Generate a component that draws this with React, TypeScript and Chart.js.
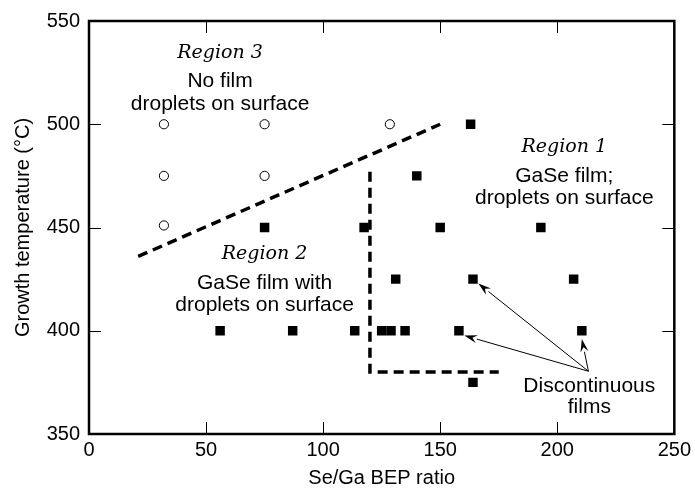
import React, { useEffect, useRef } from "react";
import { Chart, registerables } from "chart.js";

Chart.register(...registerables);

// Filled squares: GaSe film samples
const filledX = [163, 140, 75, 117.5, 150, 193, 131, 164, 207, 56, 87, 113.5, 125, 129, 135, 158, 210.5, 164];
const filledY = [500, 475, 450, 450, 450, 450, 425, 425, 425, 400, 400, 400, 400, 400, 400, 400, 400, 375];

// Open circles: no film
const openX = [32, 75, 128.5, 32, 75, 32];
const openY = [500, 500, 500, 475, 475, 451];

// Dashed boundaries
const diagX = [21, 150];
const diagY = [436, 500];
const cornerX = [120, 120, 175];
const cornerY = [477, 380, 380];

// Ticks
const xTicks = [0, 50, 100, 150, 200, 250];
const yTicks = [350, 400, 450, 500, 550];

// Annotation texts
const noteTexts = [
  "Region 3", "No film", "droplets on surface",
  "Region 2", "GaSe film with", "droplets on surface",
  "Region 1", "GaSe film;", "droplets on surface",
  "Discontinuous", "films",
];
const noteX = [56, 56, 56, 75, 75, 75, 203, 203, 203, 213.7, 213.7];
const noteY = [534.6, 520.7, 509.8, 437.0, 422.9, 412.5, 489.1, 475.0, 464.1, 373.2, 362.8];
const noteItalic = [true, false, false, true, false, false, true, false, false, false, false];

// Arrows
const arrowFromX = 213.3;
const arrowFromY = 380.4;
const arrowTipX = [166.3, 160.3, 210.5];
const arrowTipY = [422.9, 397.7, 396];

const SANS = "'Liberation Sans', Arial, Helvetica, sans-serif";
const SERIF = "'DejaVu Serif', 'Liberation Serif', serif";

const decorPlugin = {
  id: "decor",
  afterDatasetsDraw(chart: any) {
    const ctx = chart.ctx as CanvasRenderingContext2D;
    const xs = chart.scales.x;
    const ys = chart.scales.y;
    const { left, right, top, bottom } = chart.chartArea;
    ctx.save();
    // inward ticks on all sides
    ctx.strokeStyle = "#000";
    ctx.lineWidth = 1;
    const tl = 12;
    ctx.beginPath();
    xTicks.forEach((v) => {
      const px = Math.round(xs.getPixelForValue(v)) + 0.5;
      ctx.moveTo(px, bottom);
      ctx.lineTo(px, bottom - tl);
      ctx.moveTo(px, top);
      ctx.lineTo(px, top + tl);
    });
    yTicks.forEach((v) => {
      const py = Math.round(ys.getPixelForValue(v)) + 0.5;
      ctx.moveTo(left, py);
      ctx.lineTo(left + tl, py);
      ctx.moveTo(right, py);
      ctx.lineTo(right - tl, py);
    });
    ctx.stroke();
    // frame
    ctx.lineWidth = 2.5;
    ctx.strokeRect(left, top, right - left, bottom - top);

    // texts
    ctx.fillStyle = "#000";
    ctx.textAlign = "center";
    ctx.textBaseline = "middle";
    noteTexts.forEach((t, i) => {
      ctx.font = noteItalic[i] ? `italic 19px ${SERIF}` : `21px ${SANS}`;
      ctx.fillText(t, xs.getPixelForValue(noteX[i]), ys.getPixelForValue(noteY[i]));
    });

    // arrows
    const fx = xs.getPixelForValue(arrowFromX);
    const fy = ys.getPixelForValue(arrowFromY);
    ctx.lineWidth = 1;
    arrowTipX.forEach((tx, i) => {
      const px = xs.getPixelForValue(tx);
      const py = ys.getPixelForValue(arrowTipY[i]);
      const ang = Math.atan2(py - fy, px - fx);
      const hl = 13;
      const hw = 4;
      const bx = px - hl * Math.cos(ang);
      const by = py - hl * Math.sin(ang);
      ctx.beginPath();
      ctx.moveTo(fx, fy);
      ctx.lineTo(bx, by);
      ctx.stroke();
      ctx.beginPath();
      ctx.moveTo(px, py);
      ctx.lineTo(bx + hw * Math.sin(ang), by - hw * Math.cos(ang));
      ctx.lineTo(bx + 0.35 * hl * Math.cos(ang), by + 0.35 * hl * Math.sin(ang));
      ctx.lineTo(bx - hw * Math.sin(ang), by + hw * Math.cos(ang));
      ctx.closePath();
      ctx.fill();
    });
    ctx.restore();
  },
};

export default function App() {
  const ref = useRef<HTMLCanvasElement | null>(null);
  useEffect(() => {
    if (!ref.current) return;
    const toPts = (xa: number[], ya: number[]) => xa.map((x, i) => ({ x, y: ya[i] }));
    const chart = new Chart(ref.current, {
      type: "scatter",
      data: {
        datasets: [
          {
            data: toPts(diagX, diagY),
            showLine: true,
            borderColor: "#000",
            borderWidth: 3.5,
            borderDash: [10, 6],
            pointRadius: 0,
            order: 3,
          },
          {
            data: toPts(cornerX, cornerY),
            showLine: true,
            borderColor: "#000",
            borderWidth: 3.5,
            borderDash: [10, 6],
            pointRadius: 0,
            order: 3,
          },
          {
            data: toPts(openX, openY),
            pointStyle: "circle",
            pointRadius: 4.6,
            pointBorderWidth: 1,
            pointBackgroundColor: "#fff",
            pointBorderColor: "#000",
            order: 1,
          },
          {
            data: toPts(filledX, filledY),
            pointStyle: "rect",
            pointRadius: 6.7,
            pointBorderWidth: 0,
            pointBackgroundColor: "#000",
            pointBorderColor: "#000",
            order: 1,
          },
        ],
      },
      options: {
        animation: false,
        responsive: false,
        devicePixelRatio: 1,
        layout: { padding: { top: 17, right: 18, left: 0, bottom: 0 } },
        plugins: { legend: { display: false }, tooltip: { enabled: false } },
        scales: {
          x: {
            type: "linear",
            min: 0,
            max: 250,
            grid: { display: false, drawTicks: false },
            border: { display: false },
            afterBuildTicks: (s: any) => {
              s.ticks = xTicks.map((v) => ({ value: v }));
            },
            afterFit: (s: any) => {
              s.height = 59;
            },
            ticks: {
              color: "#000",
              padding: 4,
              maxRotation: 0,
              font: { family: SANS, size: 20 },
            },
            title: {
              display: true,
              text: "Se/Ga BEP ratio",
              color: "#000",
              font: { family: SANS, size: 20 },
              padding: { top: 0, bottom: 3 },
            },
          },
          y: {
            type: "linear",
            min: 350,
            max: 550,
            grid: { display: false, drawTicks: false },
            border: { display: false },
            afterBuildTicks: (s: any) => {
              s.ticks = yTicks.map((v) => ({ value: v }));
            },
            afterFit: (s: any) => {
              s.width = 89;
            },
            ticks: {
              color: "#000",
              padding: 9,
              font: { family: SANS, size: 20 },
            },
            title: {
              display: true,
              text: "Growth temperature (°C)",
              color: "#000",
              font: { family: SANS, size: 20 },
              padding: { top: 11, bottom: 0 },
            },
          },
        },
      },
      plugins: [decorPlugin],
    });
    return () => chart.destroy();
  }, []);
  return (
    <div style={{ position: "fixed", left: 0, top: 0, width: 695, height: 493, background: "#fff" }}>
      <canvas ref={ref} width={695} height={493} style={{ width: 695, height: 493, display: "block" }} />
    </div>
  );
}
